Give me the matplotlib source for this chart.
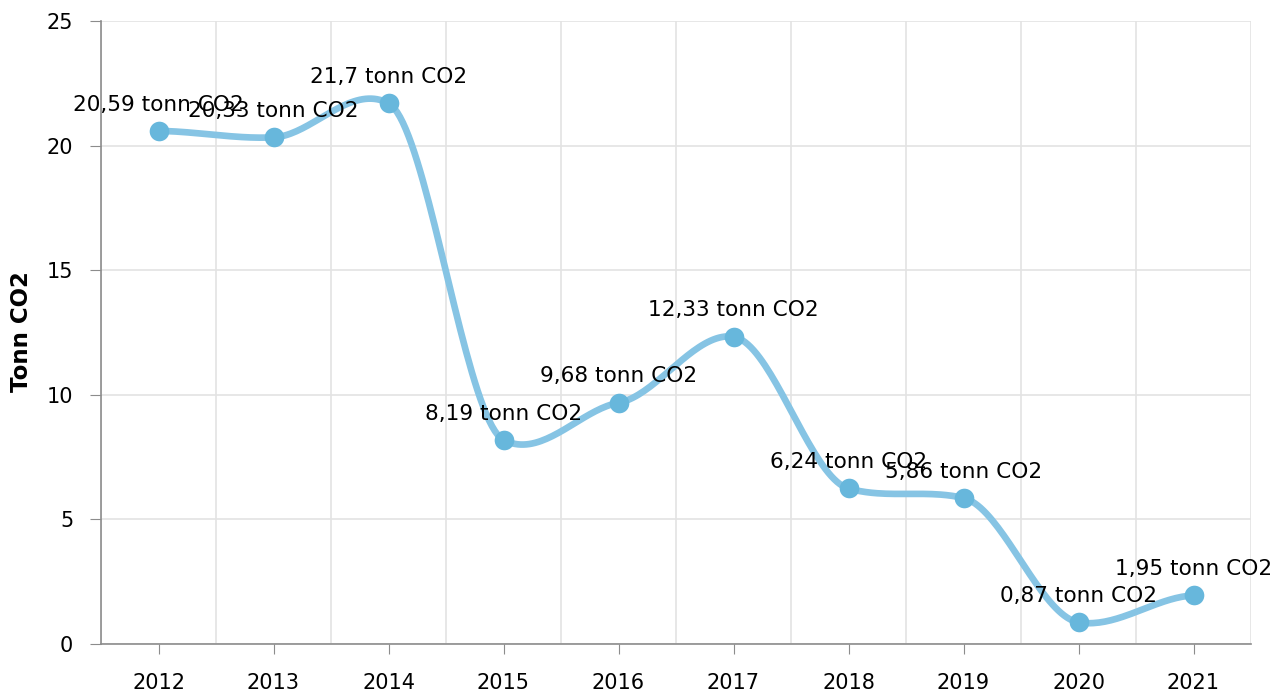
import numpy as np
import matplotlib
matplotlib.use("Agg")
import matplotlib.pyplot as plt

years = ["2012", "2013", "2014", "2015", "2016", "2017", "2018", "2019", "2020", "2021"]
values = [20.59, 20.33, 21.7, 8.19, 9.68, 12.33, 6.24, 5.86, 0.87, 1.95]
labels = ["20,59", "20,33", "21,7", "8,19", "9,68", "12,33", "6,24", "5,86", "0,87", "1,95"]
unit = "tonn CO2"


def smooth_curve(y, tension=0.4, steps=40):
    """Smooth curve through the points (cubic Hermite, damped Catmull-Rom tangents)."""
    y = np.asarray(y, dtype=float)
    n = len(y)
    m = np.zeros(n)
    m[1:-1] = (y[2:] - y[:-2]) / 2
    m[0] = (y[1] - y[0]) / 2
    m[-1] = (y[-1] - y[-2]) / 2
    m *= tension
    xs, ys = [], []
    for i in range(n - 1):
        t = np.linspace(0, 1, steps, endpoint=(i == n - 2))
        h00 = 2 * t**3 - 3 * t**2 + 1
        h10 = t**3 - 2 * t**2 + t
        h01 = -2 * t**3 + 3 * t**2
        h11 = t**3 - t**2
        xs.append(i + t)
        ys.append(h00 * y[i] + h10 * m[i] + h01 * y[i + 1] + h11 * m[i + 1])
    return np.concatenate(xs), np.concatenate(ys)


plt.rcParams["font.family"] = "DejaVu Sans"
fig = plt.figure(figsize=(12.75, 6.93), dpi=100)
ax = fig.add_axes([101 / 1275, 1 - 644 / 693, 1150 / 1275, 623 / 693])

x = np.arange(len(years))
sx, sy = smooth_curve(values)
ax.plot(sx, sy, color="#86c4e4", lw=4.8, solid_capstyle="round", zorder=3)
ax.scatter(x, values, s=200, color="#67b7dc", zorder=4, linewidths=0)

for i, (v, lab) in enumerate(zip(values, labels)):
    ax.annotate(f"{lab} {unit}", (i, v), xytext=(0, 19), textcoords="offset points",
                ha="center", va="center", fontsize=15.6, color="#000000",
                annotation_clip=False, zorder=5)

ax.set_xlim(-0.5, len(years) - 0.5)
ax.set_ylim(0, 25)
ax.set_xticks(x)
ax.set_xticklabels(years)
ax.set_xticks(np.arange(len(years) + 1) - 0.5, minor=True)
ax.set_yticks([0, 5, 10, 15, 20, 25])

ax.grid(False)
ax.grid(True, which="minor", axis="x", color="#e3e3e3", lw=1.2)
ax.grid(True, which="major", axis="y", color="#e3e3e3", lw=1.2)
ax.set_axisbelow(True)

for s in ["top", "right"]:
    ax.spines[s].set_visible(False)
for s in ["left", "bottom"]:
    ax.spines[s].set_color("#8c8c8c")
    ax.spines[s].set_linewidth(1.2)

ax.tick_params(axis="x", which="major", length=7, color="#8c8c8c", labelsize=15, pad=14)
ax.tick_params(axis="x", which="minor", length=0)
ax.tick_params(axis="y", length=8, color="#8c8c8c", labelsize=15, pad=12)
fig.text(22 / 1275, 1 - 332 / 693, "Tonn CO2", rotation=90, ha="center", va="center",
         fontsize=16.5, fontweight="bold")

fig.savefig("out.png", dpi=100)
